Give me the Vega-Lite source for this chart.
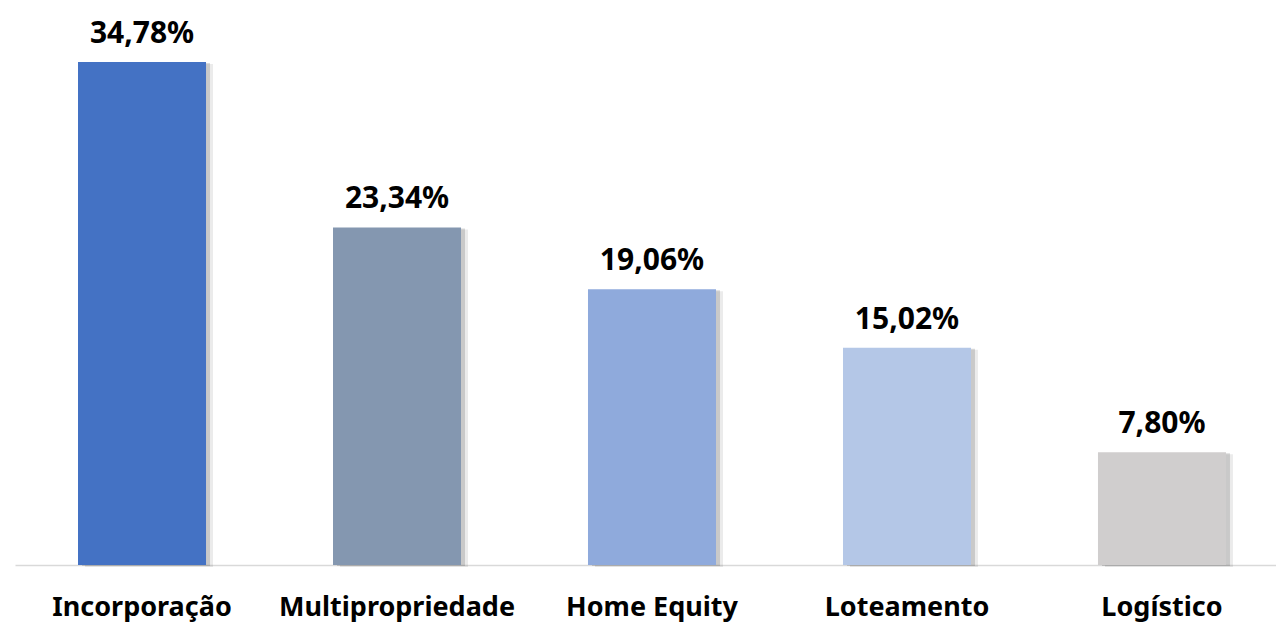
{
  "$schema": "https://vega.github.io/schema/vega-lite/v6.json",
  "autosize": "none",
  "width": 1261,
  "height": 565,
  "padding": {"left": 15, "top": 0, "right": 0, "bottom": 58},
  "background": "white",
  "config": {"view": {"stroke": null}, "font": "Noto Sans"},
  "data": {"values": [
    {"cat": "Incorporação", "v": 34.78, "label": "34,78%"},
    {"cat": "Multipropriedade", "v": 23.34, "label": "23,34%"},
    {"cat": "Home Equity", "v": 19.06, "label": "19,06%"},
    {"cat": "Loteamento", "v": 15.02, "label": "15,02%"},
    {"cat": "Logístico", "v": 7.80, "label": "7,80%"}
  ]},
  "encoding": {
    "x": {"field": "cat", "type": "nominal", "sort": null,
      "scale": {"paddingInner": 0.498, "paddingOuter": 0.2216, "align": 0.5575},
      "axis": {"title": null, "labelAngle": 0, "ticks": false, "domainColor": "#d9d9d9", "domainWidth": 1.5,
        "labelFont": "Noto Sans", "labelFontWeight": "bold", "labelFontSize": 27, "labelColor": "#000000",
        "labelBaseline": "alphabetic", "labelPadding": 50, "labelLimit": 0}},
    "y": {"field": "v", "type": "quantitative", "scale": {"domain": [0, 39.07]}, "axis": null}
  },
  "layer": [
    {"mark": {"type": "bar", "color": "#000000", "opacity": 0.08, "xOffset": 7, "yOffset": 2}},
    {"mark": {"type": "bar", "color": "#000000", "opacity": 0.14, "xOffset": 4, "yOffset": 1}},
    {"mark": {"type": "bar"},
      "encoding": {"color": {"field": "cat", "type": "nominal", "sort": null, "legend": null,
        "scale": {"domain": ["Incorporação", "Multipropriedade", "Home Equity", "Loteamento", "Logístico"],
          "range": ["#4472C4", "#8497B0", "#8FAADC", "#B4C7E7", "#D0CECE"]}}}},
    {"mark": {"type": "text", "font": "Noto Sans", "fontWeight": "bold", "fontSize": 30, "color": "#000000", "baseline": "alphabetic", "dy": -19},
      "encoding": {"text": {"field": "label"}}}
  ]
}
